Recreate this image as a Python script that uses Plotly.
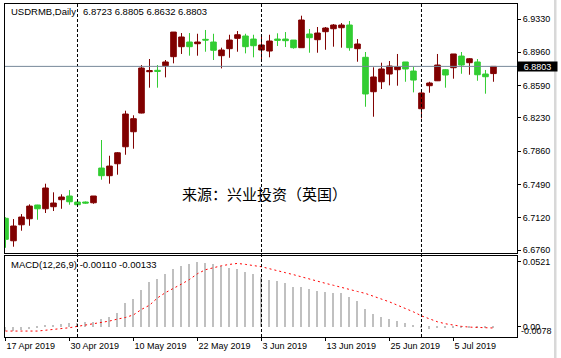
import plotly.graph_objects as go
from datetime import date

# ---------------- data ----------------
dates = (
    ["2019-04-%02d" % d for d in [17, 18, 22, 23, 24, 25, 26, 29, 30]]
    + ["2019-05-%02d" % d for d in [1, 2, 3, 6, 7, 8, 9, 10, 13, 14, 15, 16, 17, 20, 21, 22, 23, 24, 27, 28, 29, 30, 31]]
    + ["2019-06-%02d" % d for d in [3, 4, 5, 6, 7, 10, 11, 12, 13, 14, 17, 18, 19, 20, 21, 24, 25, 26, 27, 28]]
    + ["2019-07-%02d" % d for d in [1, 2, 3, 4, 5, 8, 9, 10, 11, 12]]
)

open_ = [6.7113, 6.6863, 6.7041, 6.7108, 6.7261, 6.7219, 6.7242, 6.7320, 6.7361, 6.7294,
         6.7294, 6.7286, 6.7672, 6.7587, 6.7720, 6.7909, 6.8076, 6.8284, 6.8744, 6.8759,
         6.8810, 6.8911, 6.9022, 6.9074, 6.9055, 6.9104, 6.9074, 6.8922, 6.9000, 6.9115,
         6.9141, 6.9107, 6.8985, 6.8974, 6.9107, 6.9107, 6.9096, 6.9011, 6.9163, 6.9100,
         6.9189, 6.9222, 6.9233, 6.9263, 6.9000, 6.8904, 6.8521, 6.8632, 6.8718, 6.8766,
         6.8852, 6.8751, 6.8332, 6.8588, 6.8643, 6.8766, 6.8788, 6.8918, 6.8844, 6.8852,
         6.8718, 6.8723]
high = [6.7125, 6.7105, 6.7160, 6.7268, 6.7263, 6.7498, 6.7402, 6.7380, 6.7427, 6.7305,
        6.7300, 6.7361, 6.7984, 6.7809, 6.7850, 6.8310, 6.8259, 6.8818, 6.8885, 6.8818,
        6.8874, 6.9185, 6.9174, 6.9174, 6.9166, 6.9208, 6.9166, 6.9011, 6.9155, 6.9196,
        6.9166, 6.9155, 6.9149, 6.9155, 6.9171, 6.9185, 6.9096, 6.9367, 6.9219, 6.9241,
        6.9241, 6.9274, 6.9285, 6.9308, 6.9107, 6.8963, 6.8793, 6.8844, 6.8863, 6.8941,
        6.8852, 6.8796, 6.8532, 6.8632, 6.8941, 6.8774, 6.8941, 6.8963, 6.8896, 6.8885,
        6.8763, 6.8805]
low = [6.6785, 6.6797, 6.6975, 6.7030, 6.7097, 6.7172, 6.7194, 6.7219, 6.7264, 6.7257,
       6.7275, 6.7275, 6.7542, 6.7498, 6.7598, 6.7820, 6.7887, 6.8280, 6.8566, 6.8566,
       6.8681, 6.8837, 6.8941, 6.8922, 6.8922, 6.8966, 6.8874, 6.8781, 6.8899, 6.8966,
       6.8948, 6.8904, 6.8866, 6.8904, 6.9030, 6.9018, 6.9000, 6.9011, 6.8955, 6.8955,
       6.8988, 6.9022, 6.9011, 6.8977, 6.8855, 6.8354, 6.8243, 6.8551, 6.8592, 6.8588,
       6.8632, 6.8514, 6.8225, 6.8510, 6.8640, 6.8566, 6.8666, 6.8721, 6.8710, 6.8643,
       6.8499, 6.8632]
close = [6.6879, 6.7027, 6.7127, 6.7249, 6.7219, 6.7450, 6.7283, 6.7350, 6.7297, 6.7264,
         6.7283, 6.7361, 6.7587, 6.7694, 6.7842, 6.8273, 6.8221, 6.8785, 6.8755, 6.8748,
         6.8852, 6.9185, 6.9130, 6.9022, 6.9074, 6.9096, 6.8982, 6.8985, 6.9096, 6.9155,
         6.9022, 6.9033, 6.9041, 6.9085, 6.9093, 6.9089, 6.9011, 6.9319, 6.9122, 6.9174,
         6.9230, 6.9263, 6.9263, 6.9011, 6.9052, 6.8496, 6.8685, 6.8774, 6.8807, 6.8796,
         6.8774, 6.8651, 6.8507, 6.8618, 6.8818, 6.8707, 6.8941, 6.8818, 6.8888, 6.8710,
         6.8688, 6.8803]

macd_main = [-0.0032, -0.0030, -0.0026, -0.0018, -0.0012, 0.0010, 0.0018, 0.0024, 0.0031, 0.0034,
             0.0036, 0.0043, 0.0061, 0.0080, 0.0111, 0.0191, 0.0229, 0.0301, 0.0360, 0.0391,
             0.0430, 0.0466, 0.0493, 0.0512, 0.0521, 0.0520, 0.0509, 0.0493, 0.0479, 0.0471,
             0.0447, 0.0431, 0.0407, 0.0380, 0.0367, 0.0352, 0.0326, 0.0326, 0.0310, 0.0293,
             0.0282, 0.0274, 0.0270, 0.0238, 0.0213, 0.0141, 0.0103, 0.0077, 0.0061, 0.0045,
             0.0029, 0.0016, -0.0002, -0.0016, -0.0012, -0.0012, -0.0006, -0.0004, -0.0005, -0.0008,
             -0.0012, -0.0011]
macd_signal = [-0.0038, -0.0040, -0.0040, -0.0038, -0.0038, -0.0032, -0.0024, -0.0019, -0.0011, 0.0000,
               0.0010, 0.0021, 0.0029, 0.0043, 0.0059, 0.0072, 0.0093, 0.0137, 0.0171, 0.0230,
               0.0273, 0.0305, 0.0342, 0.0379, 0.0426, 0.0458, 0.0477, 0.0490, 0.0501, 0.0509,
               0.0501, 0.0493, 0.0482, 0.0466, 0.0453, 0.0434, 0.0418, 0.0399, 0.0380, 0.0364,
               0.0348, 0.0332, 0.0314, 0.0295, 0.0282, 0.0266, 0.0245, 0.0225, 0.0198, 0.0171,
               0.0145, 0.0117, 0.0085, 0.0059, 0.0037, 0.0021, 0.0008, 0.0000, -0.0006, -0.0008,
               -0.0011, -0.00133]

price_ticks = [6.9330, 6.8960, 6.8590, 6.8230, 6.7860, 6.7490, 6.7120, 6.6760]
macd_max_label = 0.0521
macd_min_label = -0.0078
watermark = "来源：兴业投资（英国）"
symbol_title = "USDRMB,Daily"
macd_title = "MACD(12,26,9)"

# ---------------- derived ----------------
idx = list(range(len(dates)))
dobj = [date.fromisoformat(d) for d in dates]
tick_idx = idx[::8]
tick_txt = [dobj[i].strftime("%-d %b %Y") for i in tick_idx]
month_starts = [i for i in idx[1:] if dobj[i].month != dobj[i - 1].month]

W, H = 561, 358
L, R, T, B = 5, 44, 4, 21
PW, PH = W - L - R, H - T - B


def px_x(px):
    return (px - L) / PW


def px_y(py):
    return (H - B - py) / PH


FONT = "Liberation Sans, Arial, sans-serif"

fig = go.Figure()
fig.add_trace(go.Candlestick(
    x=idx, open=open_, high=high, low=low, close=close,
    increasing=dict(line=dict(color="#800000", width=1), fillcolor="#800000"),
    decreasing=dict(line=dict(color="#32cd32", width=1), fillcolor="#32cd32"),
    whiskerwidth=0, xaxis="x", yaxis="y", showlegend=False, hoverinfo="skip",
))
fig.add_trace(go.Bar(
    x=idx, y=macd_main, width=0.2, marker=dict(color="#c0c0c0", line=dict(width=0)),
    xaxis="x2", yaxis="y2", showlegend=False, hoverinfo="skip",
))
fig.add_trace(go.Scatter(
    x=idx, y=macd_signal, mode="lines",
    line=dict(color="#ff0000", width=1, dash="2px,3px"),
    xaxis="x2", yaxis="y2", showlegend=False, hoverinfo="skip",
))

xr = [-0.0625, 63.94]
main_dom = [px_y(253), 1]
macd_dom = [0, px_y(255.5)]

fig.update_layout(
    width=W, height=H,
    margin=dict(l=L, r=R, t=T, b=B),
    paper_bgcolor="white", plot_bgcolor="white",
    boxgap=0.3, boxgroupgap=0,
    bargap=0,
    font=dict(family=FONT, size=9, color="black"),
    xaxis=dict(domain=[0, 1], range=xr, anchor="y", showticklabels=False, ticks="",
               showgrid=False, zeroline=False, showline=True, mirror=True,
               linecolor="black", linewidth=1, rangeslider=dict(visible=False)),
    yaxis=dict(domain=main_dom, range=[6.6727, 6.9497], side="right",
               tickvals=price_ticks, ticktext=["%.4f" % v for v in price_ticks],
               ticks="outside", ticklen=3, tickcolor="black",
               showgrid=False, zeroline=False, showline=True, mirror=True,
               linecolor="black", linewidth=1),
    xaxis2=dict(domain=[0, 1], range=xr, anchor="y2", matches="x",
                tickvals=tick_idx, ticktext=tick_txt,
                ticks="outside", ticklen=3, tickcolor="black",
                ticklabelposition="outside right",
                showgrid=False, zeroline=False, showline=True, mirror=True,
                linecolor="black", linewidth=1),
    yaxis2=dict(domain=macd_dom, range=[-0.0086, 0.0573], side="right",
                tickvals=[macd_max_label, 0], ticktext=["%.4f" % macd_max_label, "0.00"],
                ticks="outside", ticklen=3, tickcolor="black",
                showgrid=False, zeroline=False, showline=True, mirror=True,
                linecolor="black", linewidth=1),
)

shapes = []
for i in month_starts:
    shapes.append(dict(type="line", xref="x", yref="paper", x0=i, x1=i, y0=0, y1=1,
                       line=dict(color="black", width=1, dash="3px,2px")))
shapes.append(dict(type="line", xref="x", yref="y", x0=xr[0], x1=xr[1],
                   y0=close[-1], y1=close[-1], line=dict(color="#778899", width=1)))
shapes.append(dict(type="rect", xref="paper", yref="paper", x0=px_x(554), x1=px_x(556.5),
                   y0=px_y(H), y1=px_y(0), fillcolor="#d8d8d8", line=dict(width=0)))
fig.update_layout(shapes=shapes)

ann = []
ann.append(dict(text=symbol_title, xref="paper", yref="paper", x=px_x(9), y=px_y(11.5),
                xanchor="left", yanchor="middle", showarrow=False, font=dict(size=9.5)))
ann.append(dict(text=" ".join("%.4f" % v for v in [open_[-1], high[-1], low[-1], close[-1]]),
                xref="paper", yref="paper", x=px_x(80.5), y=px_y(11.5),
                xanchor="left", yanchor="middle", showarrow=False, font=dict(size=9.5)))
ann.append(dict(text="%s %.5f %.5f" % (macd_title, macd_main[-1], macd_signal[-1]),
                xref="paper", yref="paper", x=px_x(9), y=px_y(264),
                xanchor="left", yanchor="middle", showarrow=False, font=dict(size=9.5)))
ann.append(dict(text="%.4f" % macd_min_label, xref="paper", yref="paper",
                x=px_x(519), y=px_y(331), xanchor="left", yanchor="middle",
                showarrow=False, font=dict(size=9)))
ann.append(dict(text="%.4f" % close[-1], xref="paper", yref="y", x=px_x(517), y=close[-1],
                xanchor="left", yanchor="middle", showarrow=False, bgcolor="black",
                width=39, height=9, align="center", borderpad=0,
                font=dict(size=9, color="white")))
ann.append(dict(text=watermark, xref="paper", yref="paper", x=px_x(264), y=px_y(193),
                xanchor="center", yanchor="middle", showarrow=False,
                font=dict(family="Noto Sans CJK SC", size=15, color="black")))
fig.update_layout(annotations=ann)

fig.write_html(
    "out.html",
    config={"displayModeBar": False},
    post_script="document.body.style.margin='0';document.body.style.overflow='hidden';",
)
